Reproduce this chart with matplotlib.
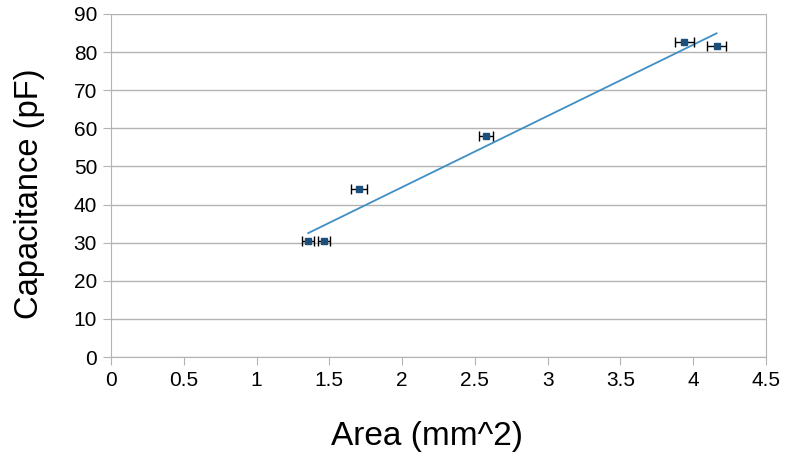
import numpy as np
import matplotlib
matplotlib.use('Agg')
import matplotlib.pyplot as plt

plt.rcParams['font.family'] = ['Liberation Sans', 'DejaVu Sans']

area = [1.355, 1.463, 1.703, 2.575, 3.94, 4.16]
area_err = [0.04, 0.04, 0.054, 0.05, 0.063, 0.062]
cap = [30.4, 30.4, 44.0, 58.1, 82.6, 81.6]

xticks = [0, 0.5, 1, 1.5, 2, 2.5, 3, 3.5, 4, 4.5]
yticks = [0, 10, 20, 30, 40, 50, 60, 70, 80, 90]

fig = plt.figure(figsize=(7.85, 4.59), dpi=100)
ax = fig.add_axes([0.1414, 0.2222, 0.8344, 0.7473])

ax.errorbar(area, cap, xerr=area_err, fmt='s', color='#1d4f7c', ms=4,
            ecolor='black', elinewidth=1, capsize=3.5, capthick=1, zorder=3)

# linear trend line
m, b = np.polyfit(area, cap, 1)
xs = np.array([min(area), max(area)])
ax.plot(xs, m * xs + b, color='#3f8fc4', lw=1.3, zorder=2)

ax.set_xlim(0, 4.5)
ax.set_ylim(0, 90)
ax.set_xticks(xticks)
ax.set_xticklabels([f'{t:g}' for t in xticks])
ax.set_yticks(yticks)
ax.grid(axis='y', color='#b3b3b3', lw=1)
ax.set_axisbelow(True)
for s in ['left', 'bottom', 'right']:
    ax.spines[s].set_color('#b3b3b3')
ax.spines['top'].set_visible(False)
ax.tick_params(colors='#b3b3b3', labelcolor='black', labelsize=15, length=6, pad=4)

fig.text(427 / 785, 1 - 437 / 459, 'Area (mm^2)', fontsize=24, ha='center', va='center')
fig.text(30 / 785, 1 - 194 / 459, 'Capacitance (pF)', fontsize=23.5, rotation=90,
         ha='center', va='center')

fig.savefig('out.png', dpi=100)
